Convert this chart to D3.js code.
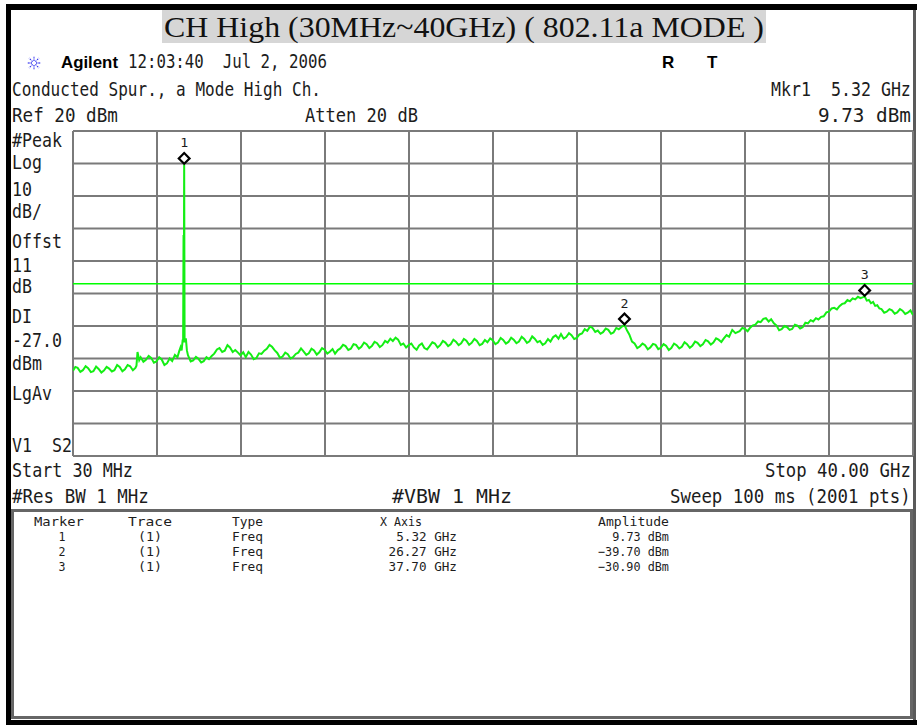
<!DOCTYPE html>
<html lang="en">
<head>
<meta charset="utf-8">
<title>CH High (30MHz~40GHz) ( 802.11a MODE )</title>
<script src="https://d3js.org/d3.v7.min.js"></script>
<style>
  body { margin: 0; background: #fff; }
  .lcd { font-family: "DejaVu Sans Mono", "Liberation Mono", monospace; fill: #1c1c1c; }
</style>
</head>
<body>
<div id="chart"></div>
<script>
// analyzer settings
const startGHz = 0.03, stopGHz = 40;
const refLevel = 20, dbPerDiv = 10, numDivs = 10;
const displayLine = -27.0;

// markers
const markerNums = [1, 2, 3];
const markerGHz = [5.32, 26.27, 37.70];
const markerDbm = [9.73, -39.70, -30.90];

// trace: [GHz, dBm]
const trace = [
  [0.03,-53.8],[0.14,-52.6],[0.25,-52.9],[0.38,-54.1],[0.50,-53.6],[0.63,-52.4],[0.75,-53.0],[0.88,-54.2],
  [1.00,-53.9],[1.13,-52.5],[1.25,-53.2],[1.38,-54.3],[1.50,-53.7],[1.63,-52.6],[1.75,-53.1],[1.88,-54.0],
  [2.00,-53.6],[2.13,-52.0],[2.25,-52.6],[2.38,-53.9],[2.50,-53.3],[2.63,-52.0],[2.75,-52.4],[2.88,-53.6],
  [3.00,-52.9],[3.05,-52.2],[3.10,-48.0],[3.18,-50.5],[3.25,-49.6],[3.38,-51.0],[3.50,-50.4],[3.63,-49.2],
  [3.75,-49.8],[3.88,-51.3],[4.00,-50.9],[4.13,-49.6],[4.25,-50.3],[4.38,-52.0],[4.50,-51.5],[4.63,-50.0],
  [4.75,-50.8],[4.88,-48.9],[5.00,-49.6],[5.08,-47.8],[5.15,-46.5],[5.20,-47.5],[5.25,-44.2],[5.27,-45.0],
  [5.29,-12.0],[5.30,-44.0],[5.32,9.73],[5.34,-45.0],[5.40,-43.8],[5.45,-47.5],[5.50,-49.0],[5.63,-50.9],
  [5.75,-50.6],[5.88,-49.5],[6.00,-50.1],[6.13,-51.2],[6.25,-50.8],[6.38,-49.6],[6.50,-50.2],[6.63,-49.2],
  [6.75,-48.5],[6.88,-47.2],[7.00,-46.8],[7.13,-48.0],[7.25,-47.6],[7.38,-45.9],[7.50,-46.6],[7.63,-48.0],
  [7.75,-47.4],[7.88,-48.2],[8.00,-49.0],[8.13,-48.1],[8.25,-49.6],[8.38,-48.0],[8.50,-48.8],[8.63,-50.2],
  [8.75,-49.9],[8.88,-48.4],[9.00,-48.6],[9.13,-47.6],[9.25,-47.0],[9.38,-45.8],[9.50,-46.4],[9.63,-47.5],
  [9.75,-48.3],[9.88,-49.8],[10.00,-49.4],[10.13,-48.2],[10.25,-48.7],[10.38,-50.0],[10.50,-49.6],[10.63,-48.6],
  [10.75,-48.2],[10.88,-46.9],[11.00,-47.8],[11.13,-48.9],[11.25,-48.4],[11.38,-47.0],[11.50,-47.5],[11.63,-48.8],
  [11.75,-48.1],[11.88,-46.8],[12.00,-47.3],[12.13,-48.5],[12.25,-47.9],[12.38,-47.1],[12.50,-48.5],[12.63,-47.4],
  [12.75,-46.9],[12.88,-45.8],[13.00,-46.2],[13.13,-47.4],[13.25,-47.0],[13.38,-45.6],[13.50,-45.8],[13.63,-47.0],
  [13.75,-46.4],[13.88,-45.1],[14.00,-45.6],[14.13,-46.8],[14.25,-46.2],[14.38,-44.9],[14.50,-45.3],[14.63,-46.5],
  [14.75,-45.9],[14.88,-44.6],[15.00,-45.1],[15.13,-43.9],[15.25,-44.6],[15.38,-43.6],[15.50,-44.2],[15.63,-45.8],
  [15.75,-45.4],[15.88,-46.6],[16.00,-45.9],[16.13,-45.4],[16.25,-46.6],[16.38,-47.3],[16.50,-46.0],[16.63,-45.4],
  [16.75,-46.8],[16.88,-47.2],[17.00,-46.2],[17.13,-45.0],[17.25,-45.4],[17.38,-46.6],[17.50,-45.9],[17.63,-44.6],
  [17.75,-45.1],[17.88,-46.2],[18.00,-45.6],[18.13,-44.2],[18.25,-44.8],[18.38,-45.9],[18.50,-45.3],[18.63,-44.0],
  [18.75,-44.5],[18.88,-45.8],[19.00,-45.2],[19.13,-44.0],[19.25,-44.6],[19.38,-45.9],[19.50,-45.5],[19.63,-44.3],
  [19.75,-45.0],[19.88,-43.8],[20.00,-44.4],[20.13,-45.6],[20.25,-45.1],[20.38,-43.7],[20.50,-44.3],[20.63,-45.4],
  [20.75,-44.9],[20.88,-43.6],[21.00,-44.2],[21.13,-45.3],[21.25,-44.8],[21.38,-43.3],[21.50,-44.0],[21.63,-45.2],
  [21.75,-44.7],[21.88,-43.2],[22.00,-43.9],[22.13,-45.0],[22.25,-44.6],[22.38,-45.8],[22.50,-45.3],[22.63,-44.0],
  [22.75,-44.8],[22.88,-43.4],[23.00,-42.9],[23.13,-43.9],[23.25,-42.5],[23.38,-43.9],[23.50,-43.4],[23.63,-42.2],
  [23.75,-42.8],[23.88,-44.0],[24.00,-43.7],[24.13,-42.6],[24.25,-42.3],[24.38,-41.0],[24.50,-41.5],[24.63,-40.2],
  [24.75,-40.6],[24.88,-41.8],[25.00,-41.4],[25.13,-42.4],[25.25,-41.9],[25.38,-40.8],[25.50,-41.2],[25.63,-42.4],
  [25.75,-42.0],[25.88,-40.6],[26.00,-41.0],[26.13,-40.3],[26.27,-39.7],[26.40,-41.5],[26.50,-42.6],[26.63,-44.8],
  [26.75,-45.4],[26.88,-46.8],[27.00,-46.3],[27.13,-45.4],[27.25,-45.9],[27.38,-47.2],[27.50,-46.6],[27.63,-45.5],
  [27.75,-45.8],[27.88,-47.1],[28.00,-46.7],[28.13,-45.6],[28.25,-46.1],[28.38,-47.4],[28.50,-46.8],[28.63,-45.4],
  [28.75,-45.9],[28.88,-46.9],[29.00,-46.4],[29.13,-45.0],[29.25,-45.6],[29.38,-46.7],[29.50,-46.1],[29.63,-44.8],
  [29.75,-45.2],[29.88,-46.2],[30.00,-45.6],[30.13,-44.3],[30.25,-44.7],[30.38,-45.7],[30.50,-45.1],[30.63,-43.8],
  [30.75,-44.2],[30.88,-44.9],[31.00,-43.8],[31.13,-42.8],[31.25,-43.3],[31.40,-41.2],[31.55,-42.2],[31.75,-41.6],
  [31.88,-40.6],[32.00,-40.9],[32.13,-41.6],[32.25,-40.5],[32.38,-39.8],[32.50,-39.6],[32.63,-38.6],[32.75,-38.8],
  [32.88,-37.8],[33.00,-37.6],[33.13,-38.6],[33.25,-37.9],[33.38,-39.2],[33.50,-39.8],[33.63,-41.3],[33.75,-41.0],
  [33.88,-40.0],[34.00,-40.3],[34.13,-41.2],[34.25,-40.9],[34.38,-39.6],[34.50,-39.9],[34.63,-40.8],[34.75,-40.4],
  [34.88,-39.0],[35.00,-39.2],[35.13,-38.2],[35.25,-38.6],[35.38,-37.6],[35.50,-38.0],[35.63,-37.2],[35.75,-37.0],
  [35.88,-35.8],[36.00,-35.6],[36.13,-34.6],[36.25,-34.4],[36.38,-34.9],[36.50,-33.9],[36.63,-33.2],[36.75,-33.0],
  [36.88,-32.0],[37.00,-32.4],[37.13,-31.5],[37.25,-31.8],[37.38,-31.0],[37.50,-31.4],[37.60,-31.2],[37.70,-30.9],
  [37.80,-32.2],[37.90,-32.0],[38.00,-33.0],[38.10,-32.6],[38.20,-33.8],[38.30,-33.6],[38.40,-34.6],[38.50,-34.8],
  [38.63,-35.9],[38.75,-35.6],[38.88,-34.8],[39.00,-35.2],[39.13,-36.2],[39.25,-35.8],[39.38,-34.8],[39.50,-35.3],
  [39.63,-36.3],[39.75,-35.9],[39.88,-35.2],[40.00,-36.6]
];

// left annotation column
const sideLabels = ["#Peak","Log","10","dB/","Offst","11","dB","DI","-27.0","dBm","LgAv","V1  S2"];
const sideBaselines = [147,169,196,218,248,272,293,323,347,370,400,452];

var svg = d3.select("#chart").append("svg")
  .attr("width", 917)
  .attr("height", 725);

var plot = {left: 73, right: 913, top: 131, bottom: 456};

var x = d3.scaleLinear().domain([startGHz, stopGHz]).range([plot.left, plot.right]);
var y = d3.scaleLinear().domain([refLevel - dbPerDiv * numDivs, refLevel]).range([plot.bottom, plot.top]);

// helper for the instrument's narrow screen font: squeeze each string to width w
function lcd(str, x0, y0, w, size, anchor) {
  var len = w || str.length * 10;
  var xs = anchor === "end" ? x0 - len : (anchor === "middle" ? x0 - len / 2 : x0);
  var g = svg.append("g");
  var t = g.append("text")
    .attr("class", "lcd")
    .attr("font-size", size || 19)
    .style("white-space", "pre")
    .text(str);
  var natural = t.node().getComputedTextLength();
  g.attr("transform", "translate(" + xs + "," + y0 + ") scale(" + (len / natural) + ",1)");
  return t;
}

// outer frame
svg.append("rect").attr("x", 6).attr("y", 4).attr("width", 911).attr("height", 6).attr("fill", "#000");
svg.append("rect").attr("x", 6).attr("y", 4).attr("width", 5).attr("height", 721).attr("fill", "#000");
svg.append("rect").attr("x", 6).attr("y", 720).attr("width", 911).attr("height", 5).attr("fill", "#000");
svg.append("rect").attr("x", 913).attr("y", 10).attr("width", 3).attr("height", 710).attr("fill", "#5a5a5a");

// title
svg.append("rect").attr("x", 162).attr("y", 10).attr("width", 604).attr("height", 33).attr("fill", "#d6d6d6");
svg.append("text")
  .attr("x", 164).attr("y", 37)
  .attr("font-family", "'Liberation Serif', 'Times New Roman', serif")
  .attr("font-size", 29)
  .attr("textLength", 600)
  .attr("lengthAdjust", "spacingAndGlyphs")
  .attr("fill", "#111")
  .text("CH High (30MHz~40GHz) ( 802.11a MODE )");

// agilent logo (little blue spark)
var logo = svg.append("g").attr("transform", "translate(34,63)");
d3.range(8).forEach(function(i) {
  var a = i * Math.PI / 4;
  logo.append("line")
    .attr("x1", Math.cos(a) * 2).attr("y1", Math.sin(a) * 2)
    .attr("x2", Math.cos(a) * 7).attr("y2", Math.sin(a) * 7)
    .attr("stroke", "#3838f0").attr("stroke-width", 1.3)
    .attr("stroke-dasharray", "1.4,1");
});

svg.append("text")
  .attr("x", 61).attr("y", 68)
  .attr("font-family", "'Liberation Sans', Arial, sans-serif")
  .attr("font-weight", "bold")
  .attr("font-size", 17)
  .attr("textLength", 57)
  .attr("lengthAdjust", "spacingAndGlyphs")
  .text("Agilent");
lcd("12:03:40  Jul 2, 2006", 128, 68, 199);
["R", "T"].forEach(function(s, i) {
  svg.append("text")
    .attr("x", [662, 707][i]).attr("y", 68)
    .attr("font-family", "'Liberation Sans', Arial, sans-serif")
    .attr("font-weight", "bold")
    .attr("font-size", 17)
    .text(s);
});

// header lines
lcd("Conducted Spur., a Mode High Ch.", 12, 96, 309);
lcd("Mkr1  5.32 GHz", 911, 96, 140, 19, "end");
lcd("Ref 20 dBm", 12, 122, 106);
lcd("Atten 20 dB", 305, 122, 113);
lcd(d3.format(".2f")(markerDbm[0]) + " dBm", 911, 122, 93, 19, "end");

// side labels
sideLabels.forEach(function(s, i) {
  lcd(s, 12, sideBaselines[i], s === "V1  S2" ? 60 : s.length * 10);
});

// footer lines
lcd("Start 30 MHz", 12, 477, 121);
lcd("Stop 40.00 GHz", 911, 477, 146, 19, "end");
lcd("#Res BW 1 MHz", 12, 503, 137);
lcd("#VBW 1 MHz", 392, 503, 120);
lcd("Sweep 100 ms (2001 pts)", 911, 503, 241, 19, "end");

// graticule
var divX = d3.scaleLinear().domain([0, numDivs]).range([startGHz, stopGHz]);
var grid = svg.append("g").attr("stroke", "#7a7a7a").attr("stroke-width", 2);
d3.range(numDivs + 1).forEach(function(i) {
  grid.append("line")
    .attr("x1", x(divX(i))).attr("x2", x(divX(i)))
    .attr("y1", plot.top).attr("y2", plot.bottom);
  grid.append("line")
    .attr("x1", plot.left).attr("x2", plot.right)
    .attr("y1", y(refLevel - i * dbPerDiv)).attr("y2", y(refLevel - i * dbPerDiv));
});

svg.append("clipPath").attr("id", "clip")
  .append("rect")
  .attr("x", plot.left).attr("y", plot.top)
  .attr("width", plot.right - plot.left).attr("height", plot.bottom - plot.top);

// display line
svg.append("line")
  .attr("x1", plot.left).attr("x2", plot.right)
  .attr("y1", y(displayLine)).attr("y2", y(displayLine))
  .attr("stroke", "#00ff00").attr("stroke-width", 1.5);

// trace
var line = d3.line().x(d => x(d[0])).y(d => y(d[1]));
svg.append("path")
  .datum(trace)
  .attr("clip-path", "url(#clip)")
  .attr("d", line)
  .attr("fill", "none")
  .attr("stroke", "#14ee14")
  .attr("stroke-width", 2)
  .attr("stroke-linejoin", "miter");

// markers
var diamond = d3.symbol().type(d3.symbolSquare).size(58);
markerNums.forEach(function(n, i) {
  var mx = x(markerGHz[i]), my = y(markerDbm[i]) - 6;
  svg.append("path")
    .attr("d", diamond)
    .attr("transform", "translate(" + mx + "," + my + ") rotate(45)")
    .attr("fill", "#fff")
    .attr("stroke", "#000")
    .attr("stroke-width", 2.2);
  lcd(String(n), mx, my - 11, 8, 13, "middle");
});

// marker table
svg.append("rect")
  .attr("x", 12.5).attr("y", 510.5)
  .attr("width", 899).attr("height", 207)
  .attr("fill", "none").attr("stroke", "#666").attr("stroke-width", 3);

var fs = 12.5;
var rowY = [541, 556, 571];
lcd("Marker", 34, 526, 50, fs);
lcd("Trace", 128, 526, 44, fs);
lcd("Type", 232, 526, 31, fs);
lcd("X Axis", 380, 526, 42, fs);
lcd("Amplitude", 598, 526, 71, fs);
markerNums.forEach(function(n, i) {
  lcd(String(n), 62, rowY[i], 7, fs, "middle");
  lcd("(1)", 150, rowY[i], 24, fs, "middle");
  lcd("Freq", 232, rowY[i], 31, fs);
  var xs = d3.format(".2f")(markerGHz[i]) + " GHz";
  lcd(xs, 457, rowY[i], xs.length * 7.6, fs, "end");
  var as = d3.format(".2f")(markerDbm[i]) + " dBm";
  lcd(as, 669, rowY[i], as.length * 7.1, fs, "end");
});
</script>
</body>
</html>
